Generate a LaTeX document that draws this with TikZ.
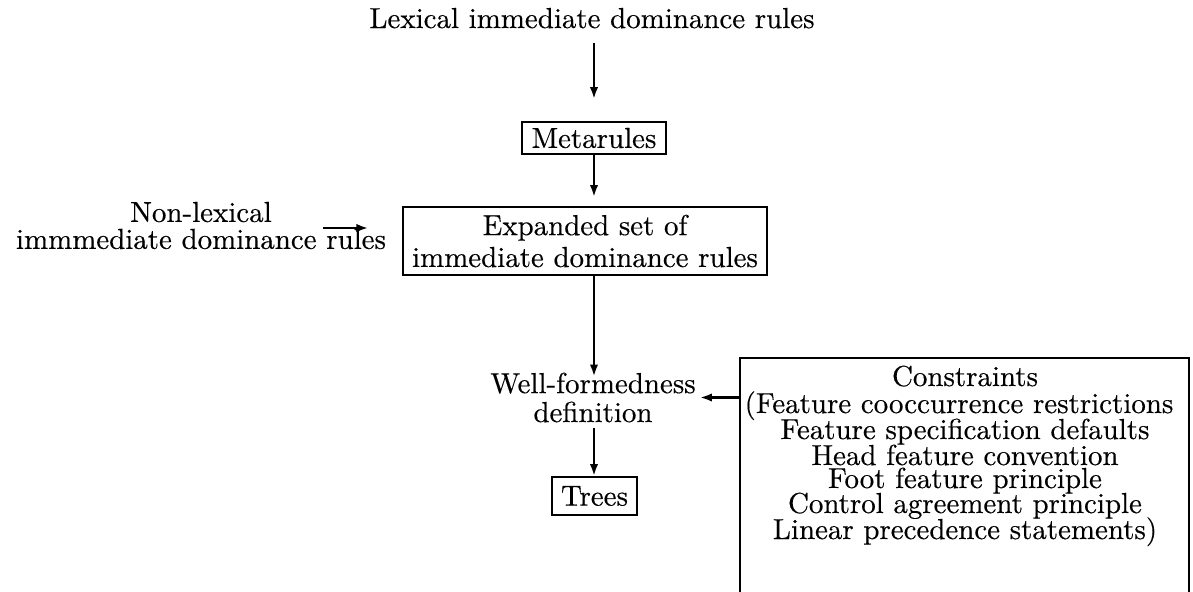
\documentclass[tikz,border=0pt]{standalone}
\usepackage{fontspec}
\setmainfont{Latin Modern Roman}[FakeBold=0.35]
\usetikzlibrary{arrows.meta}
\begin{document}
\begin{tikzpicture}[x=0.3456pt,y=-0.3456pt,
  txt/.style={inner sep=0pt, font=\fontsize{10}{12}\selectfont},
  frame/.style={draw, line width=0.95pt, inner sep=0pt, font=\fontsize{10}{12}\selectfont},
  flow/.style={line width=0.7pt, -{Latex[length=4pt,width=2.9pt]}}]
\useasboundingbox (0,0) rectangle (1193,592);

% rule sources
\node[txt, anchor=base] (lex) at (592,28) {Lexical immediate dominance rules};
\node[txt, align=center, font=\fontsize{10}{9.3}\selectfont] (nonlex) at (201,225.5)
  {Non-lexical\\immmediate dominance rules};

% boxes in the main chain
\node[frame, minimum width=49.8pt, minimum height=11pt] (meta) at (594,138) {Metarules};
\node[frame, minimum width=125.8pt, minimum height=23.5pt, align=center,
  font=\fontsize{10}{11}\selectfont] (exp) at (585,241)
  {Expanded set of\\immediate dominance rules};
\node[txt, align=center, font=\fontsize{10}{10}\selectfont] (wf) at (593,397.5)
  {Well-formedness\\definition};
\node[frame, minimum width=29.4pt, minimum height=13.1pt] (trees) at (594.5,496) {Trees};

% constraints panel
\node[draw, line width=0.95pt, minimum width=155.2pt, minimum height=84pt,
  inner sep=0pt] (cbox) at (964.5,479.5) {};
\node[txt, anchor=base] (c1) at (965,386) {Constraints};
\node[txt, anchor=base] (c2) at (959,413) {(Feature cooccurrence restrictions};
\node[txt, anchor=base] (c3) at (965,439) {Feature specification defaults};
\node[txt, anchor=base] (c4) at (965,465) {Head feature convention};
\node[txt, anchor=base] (c5) at (965,488) {Foot feature principle};
\node[txt, anchor=base] (c6) at (965,513) {Control agreement principle};
\node[txt, anchor=base] (c7) at (965,539) {Linear precedence statements)};

% connectors (main chain runs straight down through the Metarules box)
\coordinate (nla) at (323,228);
\coordinate (nlb) at (368,228);
\draw[flow, shorten <=5pt, shorten >=7.6pt] (lex.south -| meta.north) -- (meta.north);
\draw[flow, shorten >=3.1pt] (meta.south) -- (meta.south |- exp.north);
\draw[flow] (nla) -- (nlb);
\draw[flow, shorten >=-1.4pt] (exp.south -| meta.south) -- (wf.north -| meta.south);
\draw[flow, shorten <=1.7pt] (wf.south -| meta.south) -- (trees.north -| meta.south);
\draw[flow, shorten >=1.4pt] (cbox.west |- wf.east) -- (wf.east);
\end{tikzpicture}
\end{document}
